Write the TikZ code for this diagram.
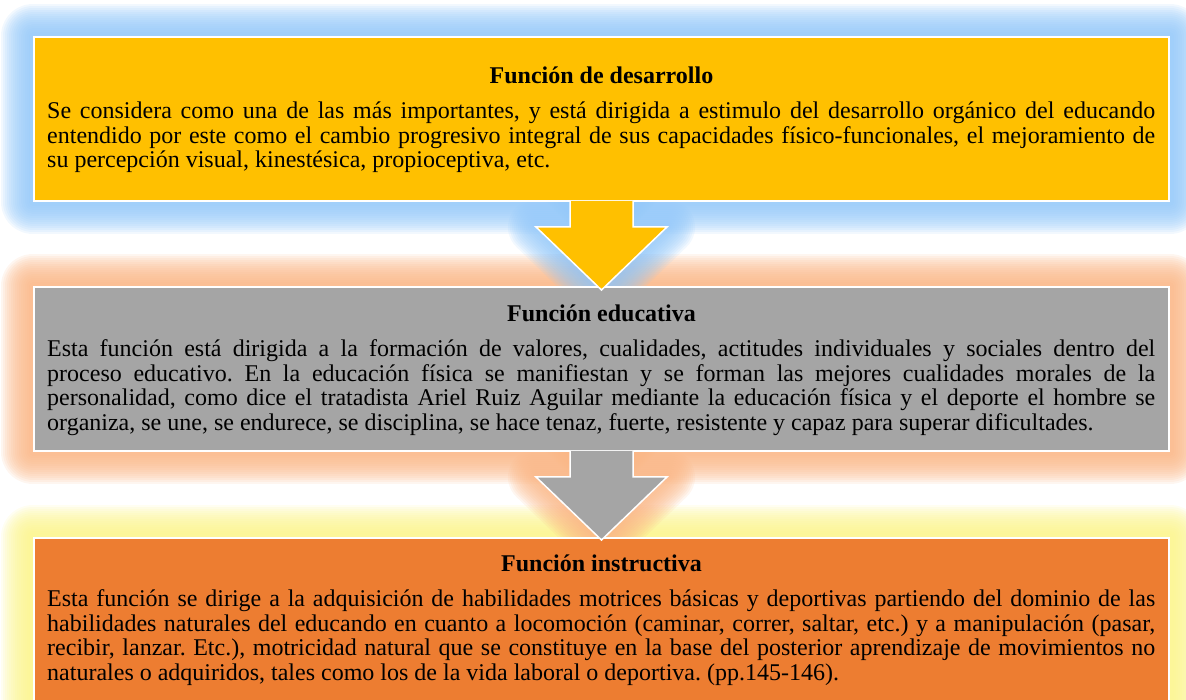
\documentclass[tikz,border=0pt]{standalone}
\usepackage{fontspec}
\setmainfont{Liberation Serif}
\usepackage{xcolor}
\usepackage{tikz}
\usetikzlibrary{positioning,calc}
\frenchspacing

\definecolor{oro}{HTML}{FFC000}
\definecolor{gris}{HTML}{A5A5A5}
\definecolor{naranja}{HTML}{ED7D31}
\definecolor{brilloazul}{HTML}{92C7F9}
\definecolor{brillonaranja}{HTML}{FAB584}
\definecolor{brilloamarillo}{HTML}{FBF488}

\pgfdeclarelayer{fondo}
\pgfsetlayers{fondo,main}

\begin{document}
\begin{tikzpicture}[x=1pt,y=1pt,
  caja/.style={draw=white,line width=2pt,minimum width=1135pt,minimum height=164pt,inner sep=0pt},
  titulo/.style={font=\fontsize{24}{24.4}\selectfont\bfseries,inner sep=0pt,anchor=base},
  texto/.style={font=\fontsize{24}{24.4}\selectfont,text width=1108pt,align=justify,inner sep=0pt,anchor=base west},
  flecha/.style={draw=white,line width=1.5pt},
  halo/.style={line width=#1,opacity=0.12,line join=round},
  flechaforma/.style={insert path={($(#1.south)+(-31.5,1)$) -- ++(0,-26) -- ++(-34,0) -- ++(65.5,-63) -- ++(65.5,63) -- ++(-34,0) -- ++(0,26)}}]
\useasboundingbox (0,0) rectangle (1186,700);

% Boxes
\node[caja,fill=oro] (desarrollo) at (601.5,581) {};
\node[caja,fill=gris] (educativa) at (601.5,331) {};
\node[caja,fill=naranja] (instructiva) at (601.5,80) {};

% Glow
\begin{pgfonlayer}{fondo}
\foreach \w in {8,12,...,64} \draw[brilloamarillo,halo=\w pt] (instructiva.south west) rectangle (instructiva.north east);
\foreach \w in {8,12,...,64} \draw[brillonaranja,halo=\w pt] (educativa.south west) rectangle (educativa.north east);
\foreach \w in {8,12,...,56} \draw[brillonaranja,halo=\w pt] [flechaforma=educativa];
\foreach \w in {8,12,...,64} \draw[brilloazul,halo=\w pt] (desarrollo.south west) rectangle (desarrollo.north east);
\foreach \w in {8,12,...,56} \draw[brilloazul,halo=\w pt] [flechaforma=desarrollo];
\end{pgfonlayer}

% Arrows
\draw[flecha,fill=oro] [flechaforma=desarrollo];
\draw[flecha,fill=gris] [flechaforma=educativa];

% Texts
\node[titulo] (tdesarrollo) at ($(desarrollo.north)+(0,-48)$) {Función de desarrollo};
\node[texto] (cdesarrollo) at ($(desarrollo.north west)+(14,-83)$) {Se considera como una de las más importantes, y está dirigida a estimulo del desarrollo orgánico del educando\linebreak entendido por este como el cambio progresivo integral de sus capacidades físico-funcionales, el mejoramiento de\linebreak su percepción visual, kinestésica, propioceptiva, etc.};

\node[titulo] (teducativa) at ($(educativa.north)+(0,-36)$) {Función educativa};
\node[texto] (ceducativa) at ($(educativa.north west)+(14,-71)$) {Esta función está dirigida a la formación de valores, cualidades, actitudes individuales y sociales dentro del\linebreak proceso educativo. En la educación física se manifiestan y se forman las mejores cualidades morales de la\linebreak personalidad, como dice el tratadista Ariel Ruiz Aguilar mediante la educación física y el deporte el hombre se\linebreak organiza, se une, se endurece, se disciplina, se hace tenaz, fuerte, resistente y capaz para superar dificultades.};

\node[titulo] (tinstructiva) at ($(instructiva.north)+(0,-35)$) {Función instructiva};
\node[texto] (cinstructiva) at ($(instructiva.north west)+(14,-70)$) {Esta función se dirige a la adquisición de habilidades motrices básicas y deportivas partiendo del dominio de las\linebreak habilidades naturales del educando en cuanto a locomoción (caminar, correr, saltar, etc.) y a manipulación (pasar,\linebreak recibir, lanzar. Etc.), motricidad natural que se constituye en la base del posterior aprendizaje de movimientos no\linebreak naturales o adquiridos, tales como los de la vida laboral o deportiva. (pp.145-146).};
\end{tikzpicture}
\end{document}
